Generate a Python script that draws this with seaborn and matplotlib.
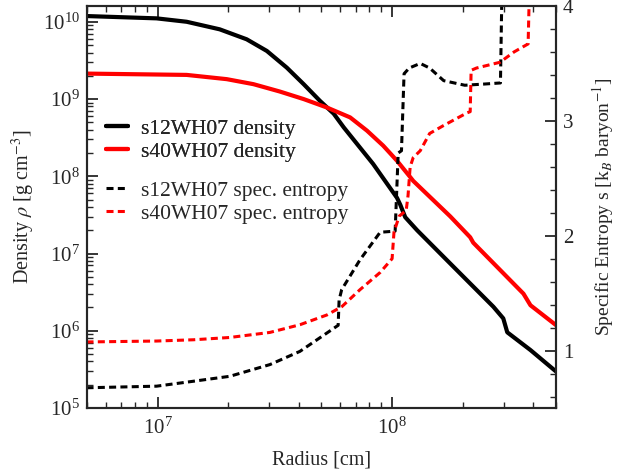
import numpy as np
import pandas as pd
import matplotlib
matplotlib.use("Agg")
import matplotlib.pyplot as plt
import matplotlib.ticker as mticker
import seaborn as sns

# ---- data (log10 of radius / density) ----
s12_dens_logr = [6.697, 6.996, 7.124, 7.265, 7.380, 7.466, 7.551, 7.623, 7.692, 7.751,
                 7.794, 7.919, 8.021, 8.035, 8.056, 8.107, 8.248, 8.432, 8.474,
                 8.491, 8.59, 8.70]
s12_dens_logrho = [10.074, 10.044, 10.0, 9.902, 9.773, 9.622, 9.406, 9.192, 8.977, 8.81,
                   8.632, 8.16, 7.72, 7.63, 7.47, 7.30, 6.87, 6.31, 6.16,
                   5.98, 5.75, 5.47]

s40_dens_logr = [6.697, 7.124, 7.295, 7.409, 7.521, 7.623, 7.722, 7.821, 7.893, 7.962,
                 7.991, 8.021, 8.077, 8.09, 8.248, 8.333, 8.346, 8.56, 8.59, 8.70]
s40_dens_logrho = [9.329, 9.312, 9.257, 9.192, 9.097, 8.999, 8.89, 8.762, 8.59, 8.396,
                   8.30, 8.20, 7.99, 7.94, 7.48, 7.21, 7.14, 6.48, 6.33, 6.07]

s12_ent_logr = [6.697, 6.996, 7.153, 7.308, 7.479, 7.607, 7.722, 7.770, 7.774, 7.785,
                7.863, 7.949, 8.013, 8.026, 8.04, 8.051, 8.073, 8.12, 8.16, 8.22,
                8.31, 8.39, 8.462, 8.468]
s12_ent = [0.676, 0.69, 0.733, 0.776, 0.878, 0.993, 1.153, 1.22, 1.44, 1.53,
           1.79, 2.03, 2.04, 2.72, 2.74, 3.41, 3.46, 3.50, 3.46, 3.35,
           3.31, 3.32, 3.33, 4.1]

s40_ent_logr = [6.697, 6.996, 7.153, 7.308, 7.479, 7.607, 7.722, 7.786, 7.863, 7.949,
                8.0, 8.008, 8.03, 8.06, 8.068, 8.077, 8.09, 8.12, 8.16, 8.22,
                8.32, 8.333, 8.337, 8.36, 8.46, 8.52, 8.58, 8.585]
s40_ent = [1.075, 1.083, 1.094, 1.114, 1.158, 1.225, 1.31, 1.383, 1.53, 1.68,
           1.80, 2.03, 2.17, 2.22, 2.35, 2.60, 2.68, 2.74, 2.89, 2.96,
           3.07, 3.08, 3.44, 3.46, 3.51, 3.60, 3.67, 4.1]

labels = ["s12WH07 density", "s40WH07 density",
          "s12WH07 spec. entropy", "s40WH07 spec. entropy"]

# ---- style ----
sns.set_style("ticks")
plt.rcParams["font.family"] = ["Liberation Serif", "DejaVu Serif"]
plt.rcParams["mathtext.fontset"] = "stix"
plt.rcParams["axes.linewidth"] = 1.5

fig = plt.figure(figsize=(6.23, 4.72), dpi=100)
ax = fig.add_axes([0.1396, 0.1356, 0.7529, 0.8517])
ax2 = ax.twinx()

def frame(lr, vals, logy):
    return pd.DataFrame({"r": 10 ** np.array(lr),
                         "v": (10 ** np.array(vals)) if logy else np.array(vals)})

d1 = frame(s12_dens_logr, s12_dens_logrho, True)
d2 = frame(s40_dens_logr, s40_dens_logrho, True)
e1 = frame(s12_ent_logr, s12_ent, False)
e2 = frame(s40_ent_logr, s40_ent, False)

sns.lineplot(data=d1, x="r", y="v", ax=ax, color="black", lw=3.0,
             estimator=None, sort=False, label=labels[0])
sns.lineplot(data=d2, x="r", y="v", ax=ax, color="#ff0000", lw=3.0,
             estimator=None, sort=False, label=labels[1])
sns.lineplot(data=e1, x="r", y="v", ax=ax2, color="black", lw=2.2,
             estimator=None, sort=False, label=labels[2])
sns.lineplot(data=e2, x="r", y="v", ax=ax2, color="#ff0000", lw=2.2,
             estimator=None, sort=False, label=labels[3])
for ln in ax2.get_lines():
    ln.set_linestyle((0, (2.3, 1.4)))
for ln in ax.get_lines():
    ln.set_solid_joinstyle("round")

ax.set_xscale("log")
ax.set_yscale("log")
ax.set_xlim(5e6, 5e8)
ax.set_ylim(1e5, 1.6e10)
ax2.set_ylim(0.5, 4.0)

ax.set_xlabel("Radius [cm]", fontsize=14.5, labelpad=8)
ax.set_ylabel(r"Density $\rho$ [g cm$^{-3}$]", fontsize=14.5, labelpad=4)
ax2.set_ylabel(r"Specific Entropy s [k$_B$ baryon$^{-1}$]", fontsize=14, labelpad=12)

ax.xaxis.set_major_locator(mticker.LogLocator(base=10, numticks=10))
ax.xaxis.set_minor_locator(mticker.LogLocator(base=10, subs=np.arange(2, 10), numticks=20))
ax.yaxis.set_major_locator(mticker.LogLocator(base=10, numticks=10))
ax.yaxis.set_minor_locator(mticker.LogLocator(base=10, subs=np.arange(2, 10), numticks=20))
ax.xaxis.set_minor_formatter(mticker.NullFormatter())
ax.yaxis.set_minor_formatter(mticker.NullFormatter())
ax2.yaxis.set_major_locator(mticker.MultipleLocator(1))
ax2.yaxis.set_minor_locator(mticker.MultipleLocator(0.2))

ax.tick_params(axis="both", which="major", labelsize=15, length=8, width=1.3,
               direction="in", top=True, right=False, pad=5)
ax.tick_params(axis="x", which="major", pad=7)
ax.tick_params(axis="both", which="minor", length=4, width=1.0,
               direction="in", top=True, right=False)
ax2.tick_params(axis="y", which="major", labelsize=15, length=8, width=1.3,
                direction="in", pad=5)
ax2.tick_params(axis="y", which="minor", length=4, width=1.0, direction="in")

if ax.get_legend() is not None:
    ax.get_legend().remove()
if ax2.get_legend() is not None:
    ax2.get_legend().remove()
h1, l1 = ax.get_legend_handles_labels()
h2, l2 = ax2.get_legend_handles_labels()
leg1 = ax.legend(h1, l1, loc="upper left", bbox_to_anchor=(0.0, 0.768), frameon=False,
                 fontsize=15.5, handlelength=1.0, handletextpad=0.6, labelspacing=0.13)
leg2 = ax2.legend(h2, l2, loc="upper left", bbox_to_anchor=(0.0, 0.613), frameon=False,
                  fontsize=15.5, handlelength=1.0, handletextpad=0.6, labelspacing=0.13)
ax.add_artist(leg1)

fig.savefig("out.png", dpi=100)
